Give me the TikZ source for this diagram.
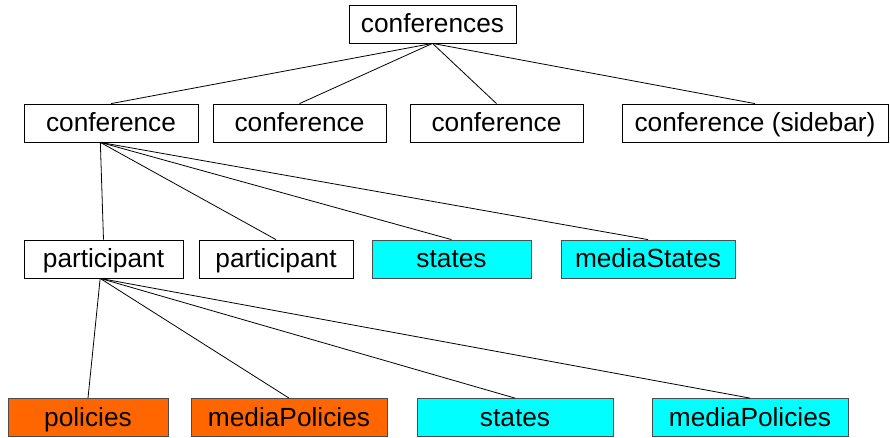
\documentclass[tikz,border=0pt]{standalone}
\usepackage{fontspec}
\setmainfont{Liberation Sans}
\definecolor{boxorange}{HTML}{FF6600}
\definecolor{boxcyan}{HTML}{00FFFF}

\begin{document}
\begin{tikzpicture}[x=0.75pt, y=-0.75pt,
    box/.style={draw, line width=0.6pt, minimum height=28.5pt, inner sep=0pt, text height=15.5pt, text depth=2.5pt, font=\fontsize{19.7}{22}\selectfont},
    cyanbox/.style={box, fill=boxcyan, draw=black!70},
    orangebox/.style={box, fill=boxorange, draw=black!70},
    link/.style={line width=0.6pt}]
  \useasboundingbox (0,0) rectangle (890,437);
  % top
  \node[box, minimum width=125.25pt] (confs) at (432.5,24) {conferences};
  % conferences
  \node[box, minimum width=130.5pt] (conf1) at (111,123) {conference};
  \node[box, minimum width=129.75pt] (conf2) at (299.5,123) {conference};
  \node[box, minimum width=129.75pt] (conf3) at (496.5,123) {conference};
  \node[box, minimum width=199.5pt] (sidebar) at (755,123) {conference (sidebar)};
  % under the first conference
  \node[box, minimum width=119.25pt] (part1) at (103.5,259) {participant};
  \node[box, minimum width=115.5pt] (part2) at (276,259) {participant};
  \node[cyanbox, minimum width=119.25pt] (confstates) at (451.5,259) {states};
  \node[cyanbox, minimum width=130.5pt] (confmedia) at (648,259) {mediaStates};
  % under the first participant
  \node[orangebox, minimum width=120pt] (policies) at (88,417.5) {policies};
  \node[orangebox, minimum width=147pt] (mediapolicies) at (289,417.5) {mediaPolicies};
  \node[cyanbox, minimum width=147pt] (partstates) at (515,417.5) {states};
  \node[cyanbox, minimum width=147pt] (partmedia) at (750,417.5) {mediaPolicies};

  \draw[link] (confs.south) -- (conf1.north);
  \draw[link] (confs.south) -- (conf2.north);
  \draw[link] (confs.south) -- (conf3.north);
  \draw[link] (confs.south) -- (sidebar.north);
  \draw[link] ([xshift=-8pt]conf1.south) -- (part1.north);
  \draw[link] ([xshift=-8pt]conf1.south) -- (part2.north);
  \draw[link] ([xshift=-8pt]conf1.south) -- (confstates.north);
  \draw[link] ([xshift=-8pt]conf1.south) -- (confmedia.north);
  \draw[link] ([xshift=-2.5pt]part1.south) -- (policies.north);
  \draw[link] ([xshift=-2.5pt]part1.south) -- (mediapolicies.north);
  \draw[link] ([xshift=-2.5pt]part1.south) -- (partstates.north);
  \draw[link] ([xshift=-2.5pt]part1.south) -- (partmedia.north);
\end{tikzpicture}
\end{document}
